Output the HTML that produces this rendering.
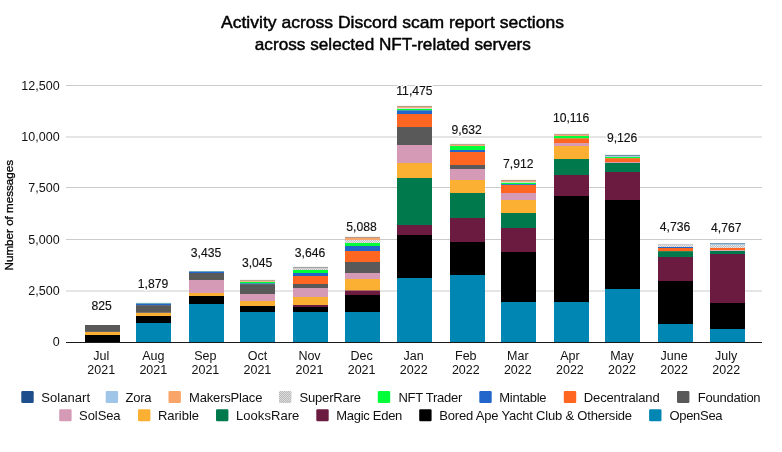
<!DOCTYPE html>
<html><head><meta charset="utf-8"><title>Activity across Discord scam report sections</title>
<style>
html,body{margin:0;padding:0;background:#fff;}
body{width:782px;height:452px;overflow:hidden;}
svg{display:block;font-family:"Liberation Sans",Arial,sans-serif;}
.t{font-size:17px;fill:#000;text-anchor:middle;stroke:#000;stroke-width:0.45px;}
.tk{font-size:12.5px;fill:#111;text-anchor:end;}
.xl{font-size:12.5px;fill:#111;text-anchor:middle;}
.dl{font-size:12.3px;fill:#fff;text-anchor:middle;stroke:#fff;stroke-width:3px;paint-order:stroke;stroke-linejoin:round;}
.dm{font-size:12.3px;fill:#111;text-anchor:middle;stroke:#111;stroke-width:0.15px;}
.lg{font-size:13px;fill:#111;}
.yt{font-size:11.5px;fill:#000;text-anchor:middle;stroke:#000;stroke-width:0.3px;}
</style></head><body>
<svg width="782" height="452" viewBox="0 0 782 452">
<rect width="782" height="452" fill="#fff"/>
<defs>
<pattern id="p1" width="2" height="2" patternUnits="userSpaceOnUse"><rect width="2" height="2" fill="#b8b8b8"/><rect width="1" height="1" fill="#dedede"/><rect x="1" y="1" width="1" height="1" fill="#dedede"/></pattern>
<pattern id="p2" width="2" height="2" patternUnits="userSpaceOnUse"><rect width="2" height="2" fill="#bcbcbc"/><rect width="1" height="1" fill="#e8e8e8"/><rect x="1" y="1" width="1" height="1" fill="#e8e8e8"/></pattern>
</defs>
<text class="t" x="392.5" y="28.4" textLength="343" lengthAdjust="spacingAndGlyphs">Activity across Discord scam report sections</text>
<text class="t" x="392.8" y="50.4" textLength="276" lengthAdjust="spacingAndGlyphs">across selected NFT-related servers</text>
<rect x="66" y="85.00" width="696" height="1" fill="#cbcbcb"/>
<text class="tk" x="59.6" y="90.20">12,500</text>
<rect x="66" y="136.50" width="696" height="1" fill="#cbcbcb"/>
<text class="tk" x="59.6" y="141.00">10,000</text>
<rect x="66" y="187.00" width="696" height="1" fill="#cbcbcb"/>
<text class="tk" x="59.6" y="192.20">7,500</text>
<rect x="66" y="239.00" width="696" height="1" fill="#cbcbcb"/>
<text class="tk" x="59.6" y="243.60">5,000</text>
<rect x="66" y="290.50" width="696" height="1" fill="#cbcbcb"/>
<text class="tk" x="59.6" y="294.90">2,500</text>
<text class="tk" x="59.6" y="346.3">0</text>
<rect x="85" y="335.00" width="35" height="7.00" fill="#000000"/>
<rect x="85" y="331.90" width="35" height="3.10" fill="#FBB034"/>
<rect x="85" y="325.00" width="35" height="6.90" fill="#595959"/>
<rect x="136" y="323.00" width="35" height="19.00" fill="#0086B3"/>
<rect x="136" y="316.00" width="35" height="7.00" fill="#000000"/>
<rect x="136" y="312.80" width="35" height="3.20" fill="#FBB034"/>
<rect x="136" y="305.10" width="35" height="7.70" fill="#595959"/>
<rect x="136" y="303.50" width="35" height="1.60" fill="#2266CC"/>
<rect x="136" y="302.90" width="35" height="0.60" fill="#4A9A9A"/>
<rect x="189" y="304.00" width="35" height="38.00" fill="#0086B3"/>
<rect x="189" y="296.00" width="35" height="8.00" fill="#000000"/>
<rect x="189" y="293.00" width="35" height="3.00" fill="#FBB034"/>
<rect x="189" y="280.00" width="35" height="13.00" fill="#D59BB6"/>
<rect x="189" y="273.00" width="35" height="7.00" fill="#595959"/>
<rect x="189" y="271.50" width="35" height="1.50" fill="#2266CC"/>
<rect x="189" y="271.00" width="35" height="0.50" fill="#4A9A9A"/>
<rect x="240" y="312.00" width="35" height="30.00" fill="#0086B3"/>
<rect x="240" y="306.00" width="35" height="6.00" fill="#000000"/>
<rect x="240" y="301.00" width="35" height="5.00" fill="#FBB034"/>
<rect x="240" y="294.00" width="35" height="7.00" fill="#D59BB6"/>
<rect x="240" y="284.10" width="35" height="9.90" fill="#595959"/>
<rect x="240" y="283.20" width="35" height="0.90" fill="#2266CC"/>
<rect x="240" y="281.70" width="35" height="1.50" fill="#00FF38"/>
<rect x="240" y="280.80" width="35" height="0.90" fill="#F9A469"/>
<rect x="240" y="279.90" width="35" height="0.90" fill="#B0917C"/>
<rect x="293" y="312.00" width="35" height="30.00" fill="#0086B3"/>
<rect x="293" y="307.00" width="35" height="5.00" fill="#000000"/>
<rect x="293" y="305.00" width="35" height="2.00" fill="#6B1A40"/>
<rect x="293" y="297.00" width="35" height="8.00" fill="#FBB034"/>
<rect x="293" y="288.00" width="35" height="9.00" fill="#D59BB6"/>
<rect x="293" y="284.00" width="35" height="4.00" fill="#595959"/>
<rect x="293" y="276.00" width="35" height="8.00" fill="#FF6622"/>
<rect x="293" y="273.00" width="35" height="3.00" fill="#2266CC"/>
<rect x="293" y="270.00" width="35" height="3.00" fill="#00FF38"/>
<rect x="293" y="268.20" width="35" height="1.80" fill="url(#p2)"/>
<rect x="293" y="266.90" width="35" height="1.30" fill="#A3A3A3"/>
<rect x="345" y="312.00" width="35" height="30.00" fill="#0086B3"/>
<rect x="345" y="295.00" width="35" height="17.00" fill="#000000"/>
<rect x="345" y="290.30" width="35" height="4.70" fill="#6B1A40"/>
<rect x="345" y="279.00" width="35" height="11.30" fill="#FBB034"/>
<rect x="345" y="273.00" width="35" height="6.00" fill="#D59BB6"/>
<rect x="345" y="262.00" width="35" height="11.00" fill="#595959"/>
<rect x="345" y="251.00" width="35" height="11.00" fill="#FF6622"/>
<rect x="345" y="246.00" width="35" height="5.00" fill="#2266CC"/>
<rect x="345" y="242.90" width="35" height="3.10" fill="#00FF38"/>
<rect x="345" y="239.90" width="35" height="3.00" fill="url(#p2)"/>
<rect x="345" y="237.90" width="35" height="2.00" fill="#F9A469"/>
<rect x="345" y="236.90" width="35" height="1.00" fill="#B0917C"/>
<rect x="397" y="278.00" width="35" height="64.00" fill="#0086B3"/>
<rect x="397" y="235.00" width="35" height="43.00" fill="#000000"/>
<rect x="397" y="225.00" width="35" height="10.00" fill="#6B1A40"/>
<rect x="397" y="178.00" width="35" height="47.00" fill="#007A4D"/>
<rect x="397" y="163.00" width="35" height="15.00" fill="#FBB034"/>
<rect x="397" y="145.00" width="35" height="18.00" fill="#D59BB6"/>
<rect x="397" y="127.00" width="35" height="18.00" fill="#595959"/>
<rect x="397" y="114.00" width="35" height="13.00" fill="#FF6622"/>
<rect x="397" y="110.20" width="35" height="3.80" fill="#2266CC"/>
<rect x="397" y="108.70" width="35" height="1.50" fill="#00FF38"/>
<rect x="397" y="107.90" width="35" height="0.80" fill="#DADADA"/>
<rect x="397" y="106.90" width="35" height="1.00" fill="#F9A469"/>
<rect x="397" y="105.90" width="35" height="1.00" fill="#B0917C"/>
<rect x="450" y="275.00" width="35" height="67.00" fill="#0086B3"/>
<rect x="450" y="242.00" width="35" height="33.00" fill="#000000"/>
<rect x="450" y="218.00" width="35" height="24.00" fill="#6B1A40"/>
<rect x="450" y="193.00" width="35" height="25.00" fill="#007A4D"/>
<rect x="450" y="180.00" width="35" height="13.00" fill="#FBB034"/>
<rect x="450" y="169.00" width="35" height="11.00" fill="#D59BB6"/>
<rect x="450" y="165.00" width="35" height="4.00" fill="#595959"/>
<rect x="450" y="152.00" width="35" height="13.00" fill="#FF6622"/>
<rect x="450" y="150.00" width="35" height="2.00" fill="#2266CC"/>
<rect x="450" y="145.90" width="35" height="4.10" fill="#00FF38"/>
<rect x="450" y="144.80" width="35" height="1.10" fill="#F9A469"/>
<rect x="450" y="143.90" width="35" height="0.90" fill="#B0917C"/>
<rect x="501" y="302.00" width="35" height="40.00" fill="#0086B3"/>
<rect x="501" y="252.00" width="35" height="50.00" fill="#000000"/>
<rect x="501" y="228.00" width="35" height="24.00" fill="#6B1A40"/>
<rect x="501" y="213.00" width="35" height="15.00" fill="#007A4D"/>
<rect x="501" y="200.00" width="35" height="13.00" fill="#FBB034"/>
<rect x="501" y="193.00" width="35" height="7.00" fill="#D59BB6"/>
<rect x="501" y="185.00" width="35" height="8.00" fill="#FF6622"/>
<rect x="501" y="184.10" width="35" height="0.90" fill="#2266CC"/>
<rect x="501" y="182.60" width="35" height="1.50" fill="#00FF38"/>
<rect x="501" y="181.90" width="35" height="0.70" fill="#DADADA"/>
<rect x="501" y="180.90" width="35" height="1.00" fill="#F9A469"/>
<rect x="501" y="179.90" width="35" height="1.00" fill="#B0917C"/>
<rect x="554" y="302.00" width="35" height="40.00" fill="#0086B3"/>
<rect x="554" y="196.00" width="35" height="106.00" fill="#000000"/>
<rect x="554" y="175.00" width="35" height="21.00" fill="#6B1A40"/>
<rect x="554" y="159.00" width="35" height="16.00" fill="#007A4D"/>
<rect x="554" y="146.00" width="35" height="13.00" fill="#FBB034"/>
<rect x="554" y="143.10" width="35" height="2.90" fill="#D59BB6"/>
<rect x="554" y="138.20" width="35" height="4.90" fill="#FF6622"/>
<rect x="554" y="135.90" width="35" height="2.30" fill="#00FF38"/>
<rect x="554" y="134.80" width="35" height="1.10" fill="#F9A469"/>
<rect x="554" y="133.90" width="35" height="0.90" fill="#B0917C"/>
<rect x="605" y="289.00" width="35" height="53.00" fill="#0086B3"/>
<rect x="605" y="200.00" width="35" height="89.00" fill="#000000"/>
<rect x="605" y="172.00" width="35" height="28.00" fill="#6B1A40"/>
<rect x="605" y="163.00" width="35" height="9.00" fill="#007A4D"/>
<rect x="605" y="162.10" width="35" height="0.90" fill="#D59BB6"/>
<rect x="605" y="158.10" width="35" height="4.00" fill="#FF6622"/>
<rect x="605" y="156.90" width="35" height="1.20" fill="#00FF38"/>
<rect x="605" y="155.90" width="35" height="1.00" fill="#9FC5E8"/>
<rect x="605" y="154.90" width="35" height="1.00" fill="#5F8598"/>
<rect x="658" y="324.00" width="35" height="18.00" fill="#0086B3"/>
<rect x="658" y="281.00" width="35" height="43.00" fill="#000000"/>
<rect x="658" y="257.00" width="35" height="24.00" fill="#6B1A40"/>
<rect x="658" y="251.10" width="35" height="5.90" fill="#007A4D"/>
<rect x="658" y="248.00" width="35" height="3.10" fill="#FF6622"/>
<rect x="658" y="246.90" width="35" height="1.10" fill="#2266CC"/>
<rect x="658" y="245.20" width="35" height="1.70" fill="url(#p2)"/>
<rect x="658" y="243.90" width="35" height="1.30" fill="#CCCCCC"/>
<rect x="710" y="329.00" width="35" height="13.00" fill="#0086B3"/>
<rect x="710" y="303.00" width="35" height="26.00" fill="#000000"/>
<rect x="710" y="254.00" width="35" height="49.00" fill="#6B1A40"/>
<rect x="710" y="250.90" width="35" height="3.10" fill="#007A4D"/>
<rect x="710" y="250.10" width="35" height="0.80" fill="#D59BB6"/>
<rect x="710" y="247.90" width="35" height="2.20" fill="#FF6622"/>
<rect x="710" y="244.90" width="35" height="3.00" fill="url(#p2)"/>
<rect x="710" y="243.90" width="35" height="1.00" fill="#9FC5E8"/>
<rect x="710" y="243.10" width="35" height="0.80" fill="#5F8598"/>
<rect x="66" y="342" width="696" height="1" fill="#1a1a1a"/>
<g transform="translate(101.6,310.0) scale(0.99,1)"><text class="dl" x="0" y="0">825</text><text class="dm" x="0" y="0">825</text></g>
<g transform="translate(153.0,288.0) scale(0.99,1)"><text class="dl" x="0" y="0">1,879</text><text class="dm" x="0" y="0">1,879</text></g>
<g transform="translate(206.0,256.9) scale(0.99,1)"><text class="dl" x="0" y="0">3,435</text><text class="dm" x="0" y="0">3,435</text></g>
<g transform="translate(257.1,266.7) scale(0.99,1)"><text class="dl" x="0" y="0">3,045</text><text class="dm" x="0" y="0">3,045</text></g>
<g transform="translate(310.0,257.1) scale(0.99,1)"><text class="dl" x="0" y="0">3,646</text><text class="dm" x="0" y="0">3,646</text></g>
<g transform="translate(361.5,231.0) scale(0.99,1)"><text class="dl" x="0" y="0">5,088</text><text class="dm" x="0" y="0">5,088</text></g>
<g transform="translate(414.4,95.2) scale(0.99,1)"><text class="dl" x="0" y="0">11,475</text><text class="dm" x="0" y="0">11,475</text></g>
<g transform="translate(466.6,133.8) scale(0.99,1)"><text class="dl" x="0" y="0">9,632</text><text class="dm" x="0" y="0">9,632</text></g>
<g transform="translate(518.2,167.7) scale(0.99,1)"><text class="dl" x="0" y="0">7,912</text><text class="dm" x="0" y="0">7,912</text></g>
<g transform="translate(571.1,121.9) scale(0.99,1)"><text class="dl" x="0" y="0">10,116</text><text class="dm" x="0" y="0">10,116</text></g>
<g transform="translate(622.1,141.7) scale(0.99,1)"><text class="dl" x="0" y="0">9,126</text><text class="dm" x="0" y="0">9,126</text></g>
<g transform="translate(675.0,230.8) scale(0.99,1)"><text class="dl" x="0" y="0">4,736</text><text class="dm" x="0" y="0">4,736</text></g>
<g transform="translate(726.2,231.9) scale(0.99,1)"><text class="dl" x="0" y="0">4,767</text><text class="dm" x="0" y="0">4,767</text></g>
<text class="xl" x="101.2" y="360">Jul</text><text class="xl" x="101.2" y="374">2021</text>
<text class="xl" x="153.3" y="360">Aug</text><text class="xl" x="153.3" y="374">2021</text>
<text class="xl" x="205.4" y="360">Sep</text><text class="xl" x="205.4" y="374">2021</text>
<text class="xl" x="257.4" y="360">Oct</text><text class="xl" x="257.4" y="374">2021</text>
<text class="xl" x="309.5" y="360">Nov</text><text class="xl" x="309.5" y="374">2021</text>
<text class="xl" x="361.6" y="360">Dec</text><text class="xl" x="361.6" y="374">2021</text>
<text class="xl" x="413.7" y="360">Jan</text><text class="xl" x="413.7" y="374">2022</text>
<text class="xl" x="465.8" y="360">Feb</text><text class="xl" x="465.8" y="374">2022</text>
<text class="xl" x="517.8" y="360">Mar</text><text class="xl" x="517.8" y="374">2022</text>
<text class="xl" x="569.9" y="360">Apr</text><text class="xl" x="569.9" y="374">2022</text>
<text class="xl" x="622.0" y="360">May</text><text class="xl" x="622.0" y="374">2022</text>
<text class="xl" x="674.1" y="360">June</text><text class="xl" x="674.1" y="374">2022</text>
<text class="xl" x="726.2" y="360">July</text><text class="xl" x="726.2" y="374">2022</text>
<text class="yt" transform="translate(13.3,215.2) rotate(-90)" textLength="110.5" lengthAdjust="spacingAndGlyphs">Number of messages</text>
<rect x="21.3" y="391.0" width="12.4" height="12" rx="1.2" fill="#1F4E8C"/><text class="lg" x="41.2" y="401.6" textLength="48.9" lengthAdjust="spacing">Solanart</text>
<rect x="105.7" y="391.0" width="12.4" height="12" rx="1.2" fill="#9FC5E8"/><text class="lg" x="125.6" y="401.6" textLength="26.0" lengthAdjust="spacing">Zora</text>
<rect x="168.5" y="391.0" width="12.4" height="12" rx="1.2" fill="#F9A469"/><text class="lg" x="189.1" y="401.6" textLength="73.3" lengthAdjust="spacing">MakersPlace</text>
<rect x="279.0" y="391.0" width="12.4" height="12" rx="1.2" fill="url(#p1)"/><text class="lg" x="299.4" y="401.6" textLength="61.7" lengthAdjust="spacing">SuperRare</text>
<rect x="377.8" y="391.0" width="12.4" height="12" rx="1.2" fill="#00FF38"/><text class="lg" x="398.5" y="401.6" textLength="63.8" lengthAdjust="spacing">NFT Trader</text>
<rect x="479.3" y="391.0" width="12.4" height="12" rx="1.2" fill="#2266CC"/><text class="lg" x="499.3" y="401.6" textLength="47.2" lengthAdjust="spacing">Mintable</text>
<rect x="563.8" y="391.0" width="12.4" height="12" rx="1.2" fill="#FF6622"/><text class="lg" x="583.8" y="401.6" textLength="75.9" lengthAdjust="spacing">Decentraland</text>
<rect x="677.0" y="391.0" width="12.4" height="12" rx="1.2" fill="#595959"/><text class="lg" x="697.8" y="401.6" textLength="62.8" lengthAdjust="spacing">Foundation</text>
<rect x="59.2" y="409.3" width="12.4" height="12" rx="1.2" fill="#D59BB6"/><text class="lg" x="79.1" y="419.9" textLength="41.5" lengthAdjust="spacing">SolSea</text>
<rect x="138.0" y="409.3" width="12.4" height="12" rx="1.2" fill="#FBB034"/><text class="lg" x="157.9" y="419.9" textLength="41.2" lengthAdjust="spacing">Rarible</text>
<rect x="216.0" y="409.3" width="12.4" height="12" rx="1.2" fill="#007A4D"/><text class="lg" x="236.0" y="419.9" textLength="63.3" lengthAdjust="spacing">LooksRare</text>
<rect x="316.3" y="409.3" width="12.4" height="12" rx="1.2" fill="#6B1A40"/><text class="lg" x="336.3" y="419.9" textLength="66.0" lengthAdjust="spacing">Magic Eden</text>
<rect x="419.2" y="409.3" width="12.4" height="12" rx="1.2" fill="#000000"/><text class="lg" x="439.3" y="419.9" textLength="192.8" lengthAdjust="spacing">Bored Ape Yacht Club &amp; Otherside</text>
<rect x="649.1" y="409.3" width="12.4" height="12" rx="1.2" fill="#0086B3"/><text class="lg" x="669.4" y="419.9" textLength="53.2" lengthAdjust="spacing">OpenSea</text>
</svg>
</body></html>
